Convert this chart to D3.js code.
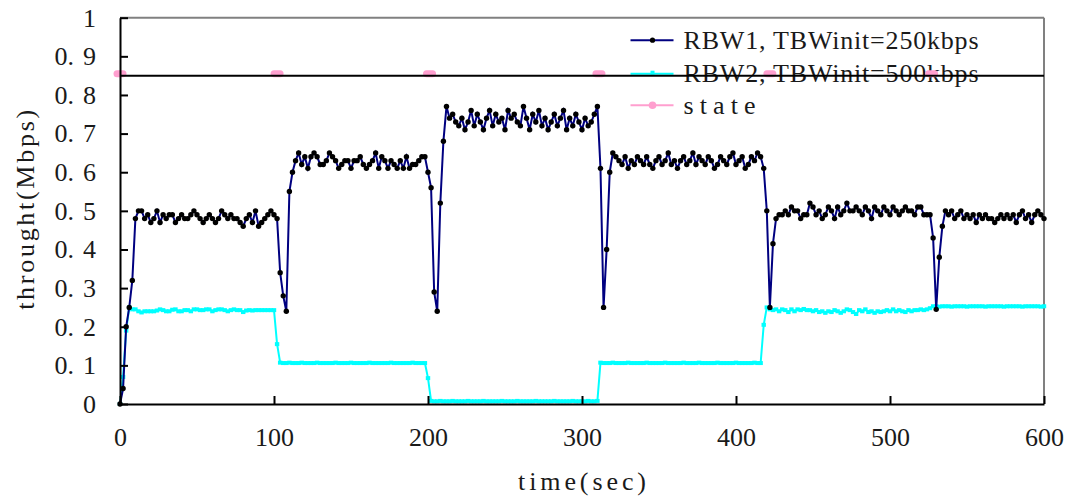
<!DOCTYPE html>
<html>
<head>
<meta charset="utf-8">
<script src="https://cdn.jsdelivr.net/npm/d3@7"></script>
<style>
  body { margin: 0; background: #fff; }
  text { font-family: "Liberation Serif", "DejaVu Serif", serif; fill: #1a1a1a; }
</style>
</head>
<body>
<div id="chart"></div>
<script>
var svgWidth = 1072;
var svgHeight = 497;

var margin = { top: 17.7, right: 28, bottom: 93, left: 120 };
var width = svgWidth - margin.left - margin.right;
var height = svgHeight - margin.top - margin.bottom;

// sampled every 2 sec, t = 0 .. 600
var sampleStep = 2;

var rbw1 = [
  0, 0.04, 0.20, 0.25, 0.32, 0.48,
  // t 12 - 100
  0.50,0.50,0.48,0.49,0.47,0.48,0.50,0.47,0.49,0.48,
  0.49,0.49,0.47,0.48,0.49,0.48,0.48,0.49,0.50,0.49,
  0.48,0.47,0.48,0.49,0.48,0.47,0.48,0.50,0.49,0.48,
  0.49,0.48,0.48,0.47,0.46,0.48,0.49,0.47,0.50,0.46,
  0.47,0.48,0.49,0.50,0.49,
  // t 102 - 112
  0.48, 0.34, 0.28, 0.24, 0.55, 0.60,
  // t 114 - 196
  0.63,0.65,0.62,0.64,0.61,0.64,0.65,0.64,0.62,0.62,
  0.63,0.65,0.64,0.63,0.61,0.62,0.63,0.63,0.61,0.63,
  0.63,0.64,0.62,0.61,0.62,0.63,0.65,0.61,0.64,0.63,
  0.61,0.63,0.62,0.61,0.63,0.61,0.64,0.61,0.62,0.62,
  0.63,0.64,
  // t 198 - 212
  0.64, 0.60, 0.56, 0.29, 0.24, 0.52, 0.68, 0.77,
  // t 214 - 308
  0.74,0.75,0.73,0.72,0.74,0.71,0.73,0.76,0.72,0.75,
  0.73,0.71,0.74,0.76,0.72,0.75,0.73,0.74,0.71,0.76,
  0.74,0.75,0.73,0.72,0.77,0.74,0.71,0.75,0.73,0.76,
  0.72,0.74,0.71,0.73,0.75,0.72,0.74,0.76,0.71,0.74,
  0.72,0.75,0.73,0.71,0.74,0.72,0.73,0.75,
  // t 310 - 320
  0.77, 0.61, 0.25, 0.40, 0.60, 0.65,
  // t 322 - 414
  0.64,0.63,0.62,0.64,0.61,0.63,0.62,0.64,0.63,0.62,
  0.64,0.62,0.61,0.63,0.64,0.62,0.63,0.65,0.62,0.63,
  0.61,0.63,0.64,0.62,0.63,0.65,0.62,0.64,0.63,0.62,
  0.64,0.63,0.61,0.62,0.64,0.63,0.62,0.64,0.65,0.62,
  0.63,0.64,0.61,0.62,0.64,0.63,0.65,
  // t 416 - 426
  0.64, 0.61, 0.50, 0.25, 0.415, 0.48,
  // t 428 - 524
  0.49,0.49,0.50,0.49,0.51,0.50,0.50,0.48,0.49,0.49,
  0.52,0.51,0.49,0.50,0.48,0.49,0.51,0.50,0.48,0.51,
  0.49,0.50,0.52,0.50,0.50,0.51,0.50,0.49,0.51,0.50,
  0.48,0.51,0.50,0.49,0.51,0.50,0.49,0.51,0.50,0.49,
  0.50,0.51,0.50,0.50,0.49,0.51,0.51,0.49,0.49,
  // t 526 - 536
  0.49, 0.43, 0.245, 0.38, 0.46, 0.50,
  // t 538 - 600
  0.49,0.50,0.48,0.49,0.50,0.48,0.49,0.48,0.49,0.47,
  0.49,0.48,0.49,0.48,0.48,0.47,0.48,0.49,0.48,0.49,
  0.48,0.49,0.47,0.49,0.50,0.48,0.49,0.47,0.49,0.50,
  0.49,0.48
];

var rbw2 = [
  0, 0.07, 0.19, 0.25,
  // t 8 - 100
  0.245,0.245,0.24,0.237,0.24,0.24,0.24,0.24,0.242,0.245,
  0.243,0.24,0.24,0.244,0.245,0.24,0.24,0.243,0.243,0.24,
  0.245,0.245,0.243,0.243,0.245,0.245,0.24,0.243,0.245,0.245,
  0.243,0.24,0.243,0.245,0.243,0.243,0.238,0.242,0.243,0.242,
  0.243,0.243,0.243,0.243,0.243,0.243,0.243,
  // t 102
  0.155,
  // t 104 - 198
  0.107,0.106,0.106,0.107,0.106,0.106,0.106,0.107,0.106,0.106,
  0.106,0.106,0.107,0.106,0.106,0.106,0.106,0.106,0.107,0.106,
  0.106,0.106,0.106,0.107,0.106,0.106,0.106,0.106,0.106,0.107,
  0.106,0.106,0.106,0.106,0.106,0.106,0.107,0.106,0.106,0.106,
  0.106,0.106,0.106,0.107,0.106,0.106,0.106,0.106,
  // t 200
  0.067,
  // t 202 - 310
  0.008,0.007,0.007,0.008,0.007,0.007,0.007,0.008,0.007,0.007,
  0.007,0.007,0.008,0.007,0.007,0.007,0.007,0.008,0.007,0.007,
  0.007,0.007,0.007,0.008,0.007,0.007,0.007,0.007,0.008,0.007,
  0.007,0.007,0.007,0.007,0.008,0.007,0.007,0.007,0.007,0.007,
  0.008,0.007,0.007,0.007,0.007,0.007,0.008,0.007,0.007,0.007,
  0.007,0.008,0.007,0.007,0.008,
  // t 312 - 416
  0.107,0.106,0.106,0.106,0.107,0.106,0.106,0.106,0.106,0.107,
  0.106,0.106,0.106,0.106,0.106,0.107,0.106,0.106,0.106,0.106,
  0.106,0.107,0.106,0.106,0.106,0.106,0.106,0.107,0.106,0.106,
  0.106,0.106,0.107,0.106,0.106,0.106,0.106,0.106,0.107,0.106,
  0.106,0.106,0.106,0.106,0.107,0.106,0.106,0.106,0.106,0.106,
  0.107,0.106,0.106,
  // t 418
  0.205,
  // t 420 - 526
  0.25,0.245,0.243,0.245,0.24,0.245,0.243,0.238,0.245,0.24,
  0.245,0.243,0.246,0.243,0.243,0.24,0.243,0.238,0.24,0.236,
  0.24,0.238,0.243,0.24,0.236,0.24,0.245,0.243,0.238,0.233,
  0.243,0.24,0.245,0.238,0.24,0.236,0.24,0.238,0.24,0.243,
  0.24,0.245,0.24,0.243,0.24,0.238,0.243,0.24,0.243,0.243,
  0.245,0.243,0.245,0.248,
  // t 528 - 600
  0.253,0.253,0.252,0.253,0.253,0.253,0.252,0.253,0.253,0.253,
  0.253,0.252,0.253,0.253,0.253,0.253,0.253,0.252,0.253,0.253,
  0.253,0.253,0.253,0.252,0.253,0.253,0.253,0.253,0.253,0.252,
  0.253,0.253,0.253,0.253,0.253,0.252,0.253
];

var stateTimes = [0, 102, 201, 311, 422, 527];
var stateValues = [0.855, 0.855, 0.855, 0.855, 0.855, 0.855];
var thresholdValue = 0.85;

var xTicks = [0, 100, 200, 300, 400, 500, 600];
var yTicks = [0, 0.1, 0.2, 0.3, 0.4, 0.5, 0.6, 0.7, 0.8, 0.9, 1];

var legendLabels = ["RBW1, TBWinit=250kbps", "RBW2, TBWinit=500kbps", "state"];
var legendWidths = [295, 295, 72];

var svg = d3.select("#chart").append("svg")
    .attr("width", svgWidth)
    .attr("height", svgHeight);

var chartGroup = svg.append("g")
  .attr("transform", `translate(${margin.left}, ${margin.top})`);

var xScale = d3.scaleLinear().domain([0, 600]).range([0, width]);
var yScale = d3.scaleLinear().domain([0, 1]).range([height, 0]);

function toPoints(vals) {
  return vals.map(function(v, i) { return { t: i * sampleStep, v: v }; });
}
var rbw1Data = toPoints(rbw1);
var rbw2Data = toPoints(rbw2);

var line = d3.line()
  .x(function(d) { return xScale(d.t); })
  .y(function(d) { return yScale(d.v); });

// frame top and right (gray)
chartGroup.append("line")
  .attr("x1", 0).attr("x2", width).attr("y1", 0).attr("y2", 0)
  .attr("stroke", "#808080").attr("stroke-width", 2);
chartGroup.append("line")
  .attr("x1", width).attr("x2", width).attr("y1", 0).attr("y2", height)
  .attr("stroke", "#808080").attr("stroke-width", 2);

// legend (drawn under the data marks)
var legend = chartGroup.append("g")
  .attr("transform", `translate(${xScale(331.5)}, 0)`);
var legendRows = [22.5, 56, 87.5];
var legendColors = ["#000080", "#00ffff", "#ff9fcf"];
legendLabels.forEach(function(label, i) {
  var row = legend.append("g").attr("transform", `translate(0, ${legendRows[i]})`);
  row.append("line")
    .attr("x1", 0).attr("x2", 43)
    .attr("stroke", legendColors[i]).attr("stroke-width", 2);
  if (i === 0) {
    row.append("circle").attr("cx", 22).attr("r", 2.6).attr("fill", "#000");
  } else if (i === 1) {
    row.append("rect").attr("x", 20).attr("y", -3).attr("width", 4).attr("height", 4).attr("fill", "#00ffff");
  } else {
    row.append("circle").attr("cx", 22).attr("r", 3.8).attr("fill", "#ff9fcf");
  }
  row.append("text")
    .attr("x", 53)
    .attr("dy", "0.33em")
    .attr("font-size", 26)
    .attr("textLength", legendWidths[i])
    .attr("lengthAdjust", "spacing")
    .text(label);
});

// RBW2 series
chartGroup.append("path")
  .datum(rbw2Data)
  .attr("fill", "none")
  .attr("stroke", "#00ffff")
  .attr("stroke-width", 2)
  .attr("d", line);

chartGroup.selectAll(".sq")
  .data(rbw2Data)
  .enter()
  .append("rect")
    .attr("class", "sq")
    .attr("x", function(d) { return xScale(d.t) - 2.2; })
    .attr("y", function(d) { return yScale(d.v) - 2; })
    .attr("width", 4.4)
    .attr("height", 4)
    .attr("fill", "#00ffff");

// RBW1 series
chartGroup.append("path")
  .datum(rbw1Data)
  .attr("fill", "none")
  .attr("stroke", "#000080")
  .attr("stroke-width", 2)
  .attr("d", line);

chartGroup.selectAll(".dot")
  .data(rbw1Data)
  .enter()
  .append("circle")
    .attr("class", "dot")
    .attr("cx", function(d) { return xScale(d.t); })
    .attr("cy", function(d) { return yScale(d.v); })
    .attr("r", 2.7)
    .attr("fill", "#000");

// state markers
chartGroup.selectAll(".state")
  .data(stateTimes)
  .enter()
  .append("line")
    .attr("class", "state")
    .attr("x1", function(d) { return xScale(d) - 3; })
    .attr("x2", function(d) { return xScale(d) + 3; })
    .attr("y1", function(d, i) { return yScale(stateValues[i]); })
    .attr("y2", function(d, i) { return yScale(stateValues[i]); })
    .attr("stroke", "#ff9fcf")
    .attr("stroke-width", 7)
    .attr("stroke-linecap", "round");

// threshold line
chartGroup.append("line")
  .attr("x1", 0).attr("x2", width)
  .attr("y1", yScale(thresholdValue)).attr("y2", yScale(thresholdValue))
  .attr("stroke", "#000").attr("stroke-width", 2);

// axes
var xAxis = d3.axisBottom(xScale).tickValues(xTicks).tickSizeInner(-8).tickSizeOuter(0).tickPadding(24);
var yAxis = d3.axisLeft(yScale).tickValues(yTicks).tickSizeInner(-8).tickSizeOuter(0).tickPadding(24)
  .tickFormat(d3.format("~g"));

var gx = chartGroup.append("g")
  .attr("transform", `translate(0, ${height})`)
  .call(xAxis);
var gy = chartGroup.append("g")
  .call(yAxis);

[gx, gy].forEach(function(g) {
  g.select(".domain").attr("stroke", "#000").attr("stroke-width", 2);
  g.selectAll(".tick line").attr("stroke", "#000").attr("stroke-width", 2);
  g.selectAll(".tick text")
    .attr("font-family", "Liberation Serif")
    .attr("font-size", 26)
    .attr("fill", "#1a1a1a");
});
// wide gap after the decimal point, like the original font
gy.selectAll(".tick text").each(function() {
  var el = d3.select(this);
  var s = el.text();
  var dot = s.indexOf(".");
  if (dot < 0) return;
  el.text(null);
  el.append("tspan").text(s.slice(0, dot + 1));
  el.append("tspan").attr("dx", 9).text(s.slice(dot + 1));
});

// axis titles
chartGroup.append("text")
  .attr("x", width / 2)
  .attr("y", height + 86)
  .attr("text-anchor", "middle")
  .attr("font-size", 26)
  .attr("textLength", 128)
  .attr("lengthAdjust", "spacing")
  .text("time(sec)");

chartGroup.append("text")
  .attr("transform", `translate(${-86}, ${height / 2 - 1}) rotate(-90)`)
  .attr("text-anchor", "middle")
  .attr("font-size", 26)
  .attr("textLength", 200)
  .attr("lengthAdjust", "spacing")
  .text("throught(Mbps)");
</script>
</body>
</html>
